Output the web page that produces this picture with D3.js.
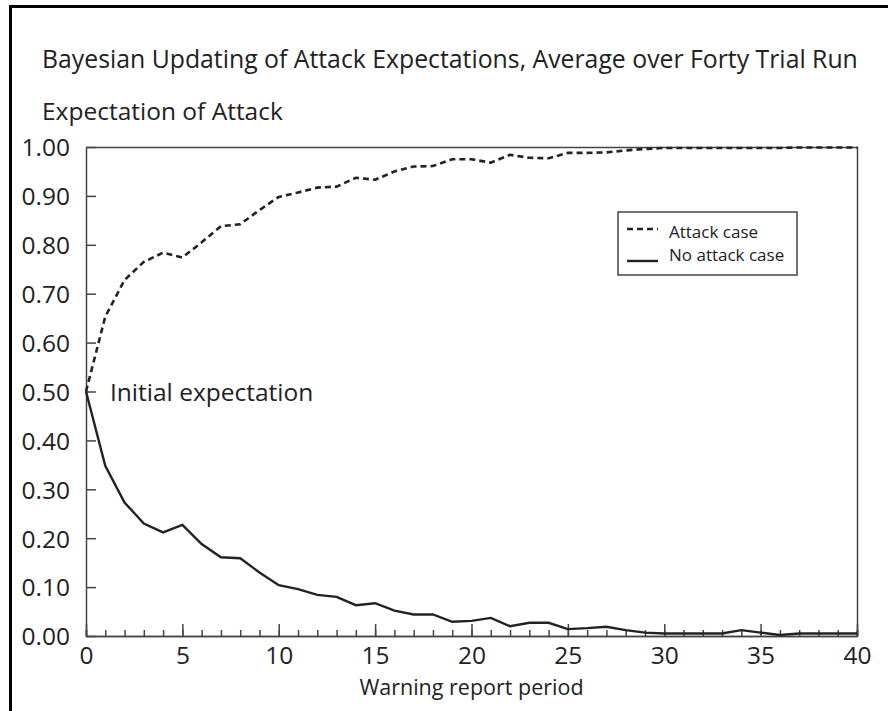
<!DOCTYPE html>
<html>
<head>
<meta charset="utf-8">
<script src="https://cdn.jsdelivr.net/npm/d3@7"></script>
<style>
  body { margin: 0; background: #fff; }
  svg text { font-family: "Open Sans", "DejaVu Sans", sans-serif; fill: #222; }
</style>
</head>
<body>
<svg id="chart" width="888" height="711"></svg>
<script>
// warning report periods 0..40
var periods = d3.range(0, 41);

// average expectation of attack, attack case (dashed)
var attackCase = [0.50, 0.653, 0.728, 0.765, 0.784, 0.774, 0.805, 0.838, 0.842, 0.871,
  0.898, 0.907, 0.917, 0.919, 0.937, 0.933, 0.950, 0.960, 0.961, 0.975,
  0.975, 0.968, 0.984, 0.978, 0.977, 0.988, 0.988, 0.989, 0.993, 0.996,
  0.998, 0.998, 0.998, 0.998, 0.998, 0.998, 0.998, 0.999, 0.999, 0.999, 0.999];

// average expectation of attack, no attack case (solid)
var noAttackCase = [0.50, 0.348, 0.273, 0.230, 0.212, 0.227, 0.188, 0.161, 0.159, 0.130,
  0.104, 0.096, 0.084, 0.080, 0.063, 0.067, 0.052, 0.044, 0.044, 0.029,
  0.031, 0.037, 0.020, 0.027, 0.027, 0.014, 0.016, 0.019, 0.012, 0.007,
  0.005, 0.005, 0.005, 0.005, 0.012, 0.007, 0.002, 0.005, 0.005, 0.005, 0.005];

var yTicks = d3.range(0, 1.0001, 0.1);
var legendItems = [
  {label: "Attack case", dash: "6,4"},
  {label: "No attack case", dash: null}
];

var svg = d3.select("#chart");
svg.margin = {left: 86, top: 147, right: 857, bottom: 636};

// outer frame
svg.append("rect")
  .attr("x", 10.5).attr("y", 6.5)
  .attr("width", 900).attr("height", 720)
  .attr("fill", "none").attr("stroke", "#000").attr("stroke-width", 3);

svg.append("text").attr("x", 42).attr("y", 68)
  .style("font-size", "24.8px")
  .text("Bayesian Updating of Attack Expectations, Average over Forty Trial Run");

svg.append("text").attr("x", 42).attr("y", 120)
  .style("font-size", "24.5px")
  .text("Expectation of Attack");

var x = d3.scaleLinear().domain([0, 40]).range([svg.margin.left, svg.margin.right]);
var y = d3.scaleLinear().domain([0, 1]).range([svg.margin.bottom, svg.margin.top]);

// plot box (top and right)
svg.append("path")
  .attr("d", "M" + svg.margin.left + "," + (svg.margin.top + 0.5) + "H" + (svg.margin.right + 0.5) + "V" + svg.margin.bottom)
  .attr("fill", "none").attr("stroke", "#444").attr("stroke-width", 1.5);

// x axis: minor ticks every period, major every 5
var axisMinor = svg.append("g")
  .attr("transform", "translate(0," + svg.margin.bottom + ")")
  .call(d3.axisBottom(x).tickValues(periods).tickSize(-6).tickFormat(""));

var axisMajor = svg.append("g")
  .attr("transform", "translate(0," + svg.margin.bottom + ")")
  .call(d3.axisBottom(x).tickValues(d3.range(0, 41, 5)).tickSize(-12).tickPadding(7).tickSizeOuter(0));

var axisY = svg.append("g")
  .attr("transform", "translate(" + svg.margin.left + ",0)")
  .call(d3.axisLeft(y).tickValues(yTicks).tickSize(-10).tickPadding(16).tickSizeOuter(0).tickFormat(d3.format(".2f")));

[axisMinor, axisMajor, axisY].forEach(function(a){
  a.selectAll("path, line").attr("stroke", "#444").attr("stroke-width", 1.5);
  a.selectAll("text").style("font-size", "24.5px").attr("fill", "#222").style("font-family", null);
});
axisMajor.selectAll("text").attr("dy", "0.85em");
axisY.selectAll("text").attr("dy", "0.36em");

svg.append("text")
  .attr("x", x(20)).attr("y", 695)
  .attr("text-anchor", "middle")
  .style("font-size", "21.5px")
  .text("Warning report period");

var line = d3.line()
  .x(function(d, i){ return x(periods[i]); })
  .y(function(d){ return y(d); });

svg.append("path").datum(attackCase)
  .attr("d", line)
  .attr("fill", "none").attr("stroke", "#222").attr("stroke-width", 2.6)
  .attr("stroke-dasharray", "6,4");

svg.append("path").datum(noAttackCase)
  .attr("d", line)
  .attr("fill", "none").attr("stroke", "#222").attr("stroke-width", 2.4);

svg.append("text").attr("x", 110).attr("y", 401)
  .style("font-size", "24.5px")
  .text("Initial expectation");

// legend
var legend = svg.append("g").attr("transform", "translate(618,212)");
legend.append("rect").attr("width", 179).attr("height", 63)
  .attr("fill", "#fff").attr("stroke", "#444").attr("stroke-width", 1.5);
var items = legend.selectAll(".item").data(legendItems).enter().append("g");
items.append("line")
  .attr("x1", 9).attr("x2", 40)
  .attr("y1", function(d, i){ return 17 + i * 32; })
  .attr("y2", function(d, i){ return 17 + i * 32; })
  .attr("stroke", "#222").attr("stroke-width", 2.4)
  .attr("stroke-dasharray", function(d){ return d.dash; });
items.append("text").attr("x", 51)
  .attr("y", function(d, i){ return 21 + i * 23; })
  .attr("dy", "0.32em")
  .style("font-size", "17px")
  .text(function(d){ return d.label; });
</script>
</body>
</html>
